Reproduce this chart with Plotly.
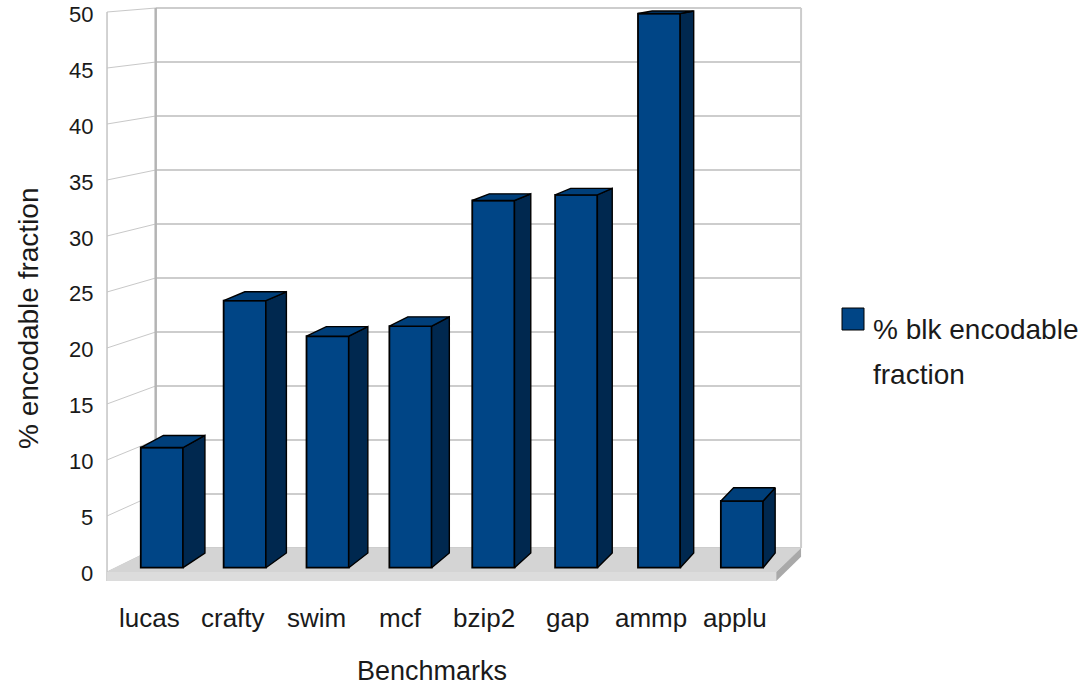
import plotly.graph_objects as go

# ---- data -------------------------------------------------------------
benchmarks = ["lucas", "crafty", "swim", "mcf", "bzip2", "gap", "ammp", "applu"]
encodable_pct = [10.8, 24.0, 20.8, 21.7, 33.0, 33.5, 49.8, 6.0]
y_ticks = [0, 5, 10, 15, 20, 25, 30, 35, 40, 45, 50]
series_name = "% blk encodable fraction"

# ---- scene geometry ---------------------------------------------------
W, H = 1089, 689
# pixel frame of the bar front plane: category 0 centre / value 0
PX_X0, PX_PER_CAT = 161.9, 82.87
PX_Y0, PX_PER_UNIT = 567.7, 11.128

VP = (15.8, 60.0)          # vanishing point (data units)
K_FRONT = 1.0064           # front edge of floor / value axis
K_WALL = 0.9705            # back wall
K_BAR = (0.983, 0.978)     # back face of the bars
K_LABEL = 1.0095           # category label line
X_LEFT, X_RIGHT = -0.5575, 7.467
Y_TOP = 50
FLOOR_T = 0.8
BAR_W = 0.51

FONT = "Liberation Sans, Arial, sans-serif"
TXT = "#1a1a1a"
BLUE_FRONT = "#004586"
BLUE_TOP = "#003f7a"
BLUE_SIDE = "#00284f"


def proj(x, y, k):
    kx, ky = (k, k) if isinstance(k, (int, float)) else k
    return VP[0] + kx * (x - VP[0]), VP[1] + ky * (y - VP[1])


def path(pts):
    return "M " + " L ".join(f"{x:.4f},{y:.4f}" for x, y in pts) + " Z"


def line_shape(p0, p1, color, width):
    return dict(type="line", xref="x", yref="y", layer="below",
                x0=p0[0], y0=p0[1], x1=p1[0], y1=p1[1],
                line=dict(color=color, width=width))


shapes = []

# back wall panel
shapes.append(dict(type="path", xref="x", yref="y", layer="below",
                   path=path([proj(X_LEFT, 0, K_WALL), proj(X_RIGHT, 0, K_WALL),
                              proj(X_RIGHT, Y_TOP, K_WALL), proj(X_LEFT, Y_TOP, K_WALL)]),
                   fillcolor="white", line=dict(width=0)))

# grid on the left wall and on the back wall
for v in y_ticks:
    shapes.append(line_shape(proj(X_LEFT, v, K_FRONT), proj(X_LEFT, v, K_WALL), "#c8c8c8", 1))
    shapes.append(line_shape(proj(X_LEFT, v, K_WALL), proj(X_RIGHT, v, K_WALL), "#bdbdbd", 1.6))

# wall edges
shapes.append(line_shape(proj(X_LEFT, -FLOOR_T, K_FRONT), proj(X_LEFT, Y_TOP, K_FRONT), "#c4c4c4", 1.5))
shapes.append(line_shape(proj(X_LEFT, 0, K_WALL), proj(X_LEFT, Y_TOP, K_WALL), "#b4b4b4", 2.5))
shapes.append(line_shape(proj(X_RIGHT, 0, K_WALL), proj(X_RIGHT, Y_TOP, K_WALL), "#cccccc", 2))

# floor slab: top, front and right faces
shapes.append(dict(type="path", xref="x", yref="y", layer="below",
                   path=path([proj(X_LEFT, 0, K_FRONT), proj(X_RIGHT, 0, K_FRONT),
                              proj(X_RIGHT, 0, K_WALL), proj(X_LEFT, 0, K_WALL)]),
                   fillcolor="#d4d4d4", line=dict(width=0)))
shapes.append(dict(type="path", xref="x", yref="y", layer="below",
                   path=path([proj(X_LEFT, 0, K_FRONT), proj(X_RIGHT, 0, K_FRONT),
                              proj(X_RIGHT, -FLOOR_T, K_FRONT), proj(X_LEFT, -FLOOR_T, K_FRONT)]),
                   fillcolor="#dcdcdc", line=dict(width=0)))
shapes.append(dict(type="path", xref="x", yref="y", layer="below",
                   path=path([proj(X_RIGHT, 0, K_FRONT), proj(X_RIGHT, 0, K_WALL),
                              proj(X_RIGHT, -FLOOR_T, K_WALL), proj(X_RIGHT, -FLOOR_T, K_FRONT)]),
                   fillcolor="#a9a9a9", line=dict(width=0)))

fig = go.Figure()

# bar front faces
xs = list(range(len(benchmarks)))
fig.add_trace(go.Bar(x=xs, y=encodable_pct, width=BAR_W, base=0,
                     marker=dict(color=BLUE_FRONT, line=dict(color="black", width=1.8)),
                     name=series_name, showlegend=False, hoverinfo="skip"))

# bar side and top faces
for i, v in zip(xs, encodable_pct):
    xl, xr = i - BAR_W / 2, i + BAR_W / 2
    side = [(xr, 0), (xr, v), proj(xr, v, K_BAR), proj(xr, 0, K_BAR), (xr, 0)]
    top = [(xl, v), (xr, v), proj(xr, v, K_BAR), proj(xl, v, K_BAR), (xl, v)]
    for pts, col in ((side, BLUE_SIDE), (top, BLUE_TOP)):
        fig.add_trace(go.Scatter(x=[p[0] for p in pts], y=[p[1] for p in pts],
                                 mode="lines", fill="toself", fillcolor=col,
                                 line=dict(color="black", width=1.4),
                                 showlegend=False, hoverinfo="skip"))

annotations = []
# value axis labels
for v in y_ticks:
    ax, ay = proj(X_LEFT, v, K_FRONT)
    annotations.append(dict(x=ax, y=ay, xref="x", yref="y", text=str(v),
                            showarrow=False, xanchor="right", yanchor="middle",
                            xshift=-12, yshift=-2,
                            font=dict(family=FONT, size=22, color=TXT)))
# category labels
for i, name in zip(xs, benchmarks):
    lx, _ = proj(i, 0, K_LABEL)
    annotations.append(dict(x=lx, y=1 - 618 / H, xref="x", yref="paper", text=name,
                            showarrow=False, xanchor="center", yanchor="middle",
                            font=dict(family=FONT, size=26, color=TXT)))
# axis titles
annotations.append(dict(x=432 / W, y=1 - 671 / H, xref="paper", yref="paper",
                        text="Benchmarks", showarrow=False,
                        xanchor="center", yanchor="middle",
                        font=dict(family=FONT, size=27, color=TXT)))
annotations.append(dict(x=28 / W, y=1 - 318 / H, xref="paper", yref="paper",
                        text="% encodable fraction", textangle=-90, showarrow=False,
                        xanchor="center", yanchor="middle",
                        font=dict(family=FONT, size=28, color=TXT)))
# legend
leg_lines = series_name.split(" fraction")[0], "fraction"
annotations.append(dict(x=871 / W, y=1 - 330 / H, xref="paper", yref="paper",
                        text=leg_lines[0], showarrow=False, xanchor="left", yanchor="middle",
                        font=dict(family=FONT, size=28, color=TXT)))
annotations.append(dict(x=871 / W, y=1 - 375 / H, xref="paper", yref="paper",
                        text=leg_lines[1], showarrow=False, xanchor="left", yanchor="middle",
                        font=dict(family=FONT, size=28, color=TXT)))
shapes.append(dict(type="rect", xref="paper", yref="paper",
                   x0=842 / W, x1=864 / W, y0=1 - 330 / H, y1=1 - 308 / H,
                   fillcolor=BLUE_FRONT, line=dict(color="black", width=1)))

fig.update_layout(
    width=W, height=H, autosize=False,
    margin=dict(l=0, r=0, t=0, b=0),
    paper_bgcolor="white", plot_bgcolor="white",
    showlegend=False,
    xaxis=dict(visible=False, range=[(0 - PX_X0) / PX_PER_CAT, (W - PX_X0) / PX_PER_CAT]),
    yaxis=dict(visible=False, range=[(PX_Y0 - H) / PX_PER_UNIT, PX_Y0 / PX_PER_UNIT]),
    shapes=shapes, annotations=annotations,
)

fig.write_html("out.html")
